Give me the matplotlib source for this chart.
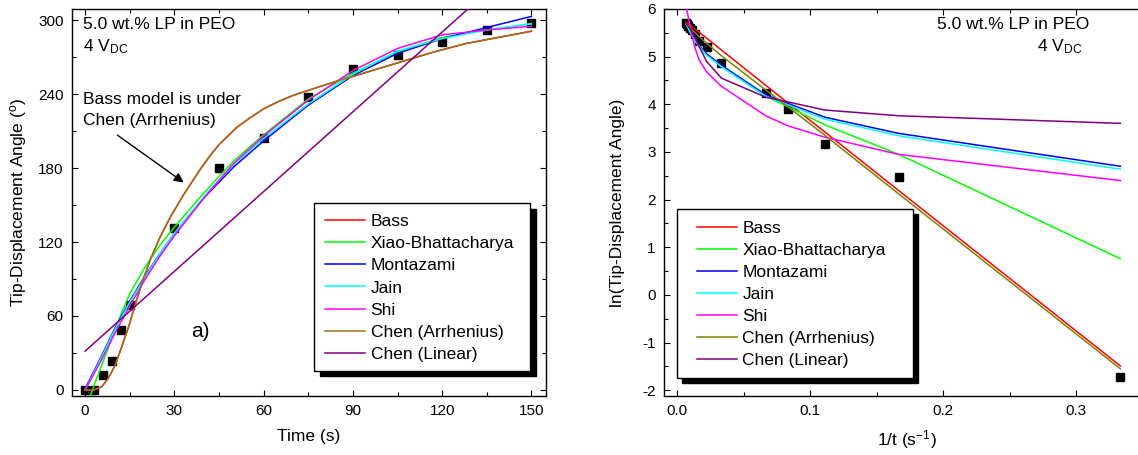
import numpy as np
import matplotlib
matplotlib.use("Agg")
import matplotlib.pyplot as plt
from matplotlib.patches import Rectangle
from matplotlib.ticker import MultipleLocator

plt.rcParams['font.family'] = ['Liberation Sans', 'DejaVu Sans']
plt.rcParams['mathtext.fontset'] = 'custom'
plt.rcParams['mathtext.rm'] = 'Liberation Sans'
plt.rcParams['mathtext.it'] = 'Liberation Sans:italic'
plt.rcParams['axes.unicode_minus'] = False

# measured tip displacement
time_s = [0, 3, 6, 9, 12, 15, 30, 45, 60, 75, 90, 105, 120, 135, 150]
angle_deg = [0, 0.18, 12, 23.5, 49, 69, 131, 180, 204, 238, 260, 272, 282, 292, 298]

model_names = ['Bass', 'Xiao-Bhattacharya', 'Montazami', 'Jain', 'Shi',
               'Chen (Arrhenius)', 'Chen (Linear)']
colors_left = ['#ff0000', '#00ff00', '#0000ff', '#00ffff', '#ff00ff', '#a0701c', '#800080']
colors_right = ['#ff0000', '#00ff00', '#0000ff', '#00ffff', '#ff00ff', '#808000', '#800080']

# model curves, left panel (angle vs time)
fit_t = [0, 5, 10, 15, 20, 25, 30, 40, 50, 60, 75, 90, 105, 120, 135, 150]
montazami = [1, 25, 50, 72, 92, 110, 127, 156, 181, 202, 231, 255, 273, 285, 294, 303]
jain = [0, 24, 49, 71, 91, 110, 127, 157, 183, 204, 232, 256, 275, 285, 292, 297]
shi = [0, 22, 46, 68, 89, 108, 125, 156, 184, 206, 235, 259, 277, 288, 292, 295]
xiao_t = [1.7, 4, 6.2, 9, 12, 15, 20, 25, 30, 40, 50, 60, 75, 90, 105, 120, 135, 150]
xiao = [-5, 10, 24, 42, 61, 78, 99, 117, 132, 160, 186, 207, 236, 257, 274, 286, 292, 297]
arrh_t = [0, 3, 5.6, 7.8, 10.1, 12.3, 14.6, 16.8, 19, 21.8, 25.2, 28.6, 33, 36, 39, 42,
          45, 48, 51, 55, 60, 65, 70, 75, 84, 95, 106, 117, 128, 139, 150]
arrh = [0, 0, 2.7, 9.5, 20, 35, 51, 69, 86, 105, 124, 140, 158, 169, 180, 190,
        199, 206, 213, 220, 228, 234, 239, 243, 250, 258, 266, 274, 281, 286, 291]
bass = list(arrh)  # hidden under Chen (Arrhenius)
linear_t = [0, 150]
linear = [31.5, 355]

# model curves, right panel (ln angle at t = 3 ... 150 s)
ln_bass = [-1.49, 2.19, 3.42, 4.03, 4.40, 5.14, 5.39, 5.51, 5.58, 5.63, 5.67, 5.69, 5.71, 5.73]
ln_xiao = [0.76, 2.95, 3.57, 3.95, 4.17, 4.80, 5.05, 5.23, 5.36, 5.47, 5.55, 5.62, 5.66, 5.69]
ln_montazami = [2.70, 3.39, 3.73, 4.02, 4.20, 4.82, 5.06, 5.23, 5.36, 5.47, 5.55, 5.62, 5.67, 5.70]
ln_jain = [2.64, 3.34, 3.69, 3.99, 4.17, 4.79, 5.03, 5.21, 5.34, 5.45, 5.53, 5.60, 5.65, 5.68]
ln_shi = [2.40, 2.95, 3.31, 3.55, 3.76, 4.38, 4.68, 4.93, 5.20, 5.47, 5.68, 5.85, 5.97, 6.08]
ln_arrh = [-1.55, 2.12, 3.35, 3.95, 4.30, 5.02, 5.28, 5.42, 5.51, 5.57, 5.62, 5.65, 5.68, 5.70]
ln_linear = [3.60, 3.76, 3.88, 4.05, 4.15, 4.55, 4.90, 5.21, 5.40, 5.53, 5.60, 5.64, 5.67, 5.70]

FS = 12.5


def style_axes(ax):
    for s in ax.spines.values():
        s.set_linewidth(1.0)
    ax.tick_params(which='both', direction='in', top=True, right=True,
                   labelsize=11, pad=6, width=0.8)
    ax.tick_params(which='major', length=4.5)
    ax.tick_params(which='minor', length=2.8)


def boxed_legend(ax, handles, frame, shadow, anchor):
    x0, y0, w, h = frame
    ax.add_patch(Rectangle((x0 + shadow[0], y0 - shadow[1]), w, h, transform=ax.transAxes,
                           facecolor='black', edgecolor='black', zorder=4, clip_on=False))
    ax.add_patch(Rectangle((x0, y0), w, h, transform=ax.transAxes, facecolor='white',
                           edgecolor='black', lw=1.0, zorder=4.5, clip_on=False))
    ax.legend(handles=handles, loc='upper left', bbox_to_anchor=anchor, frameon=False,
              borderaxespad=0, borderpad=0, fontsize=FS, handlelength=2.3,
              handletextpad=0.33, labelspacing=0.40)


fig = plt.figure(figsize=(11.38, 4.55), dpi=100)

# ---- left panel
ax1 = fig.add_axes([0.06327, 0.12967, 0.41652, 0.85055])
ax1.plot(time_s, angle_deg, 's', color='black', ms=6, zorder=2)
curves = [(arrh_t, bass), (xiao_t, xiao), (fit_t, montazami), (fit_t, jain),
          (fit_t, shi), (arrh_t, arrh), (linear_t, linear)]
lines1 = []
for (tx, ty), name, c in zip(curves, model_names, colors_left):
    ln, = ax1.plot(tx, ty, color=c, lw=1.1, label=name, zorder=3)
    lines1.append(ln)
ax1.set_xlim(-4.4, 154.9)
ax1.set_ylim(-4.9, 309)
ax1.xaxis.set_major_locator(MultipleLocator(30))
ax1.xaxis.set_minor_locator(MultipleLocator(15))
ax1.yaxis.set_major_locator(MultipleLocator(60))
ax1.yaxis.set_minor_locator(MultipleLocator(30))
style_axes(ax1)
ax1.set_xlabel('Time (s)', fontsize=FS)
ax1.set_ylabel(r'Tip-Displacement Angle ($^{\rm o}$)', fontsize=FS)
ax1.xaxis.set_label_coords(0.5, -0.085)
ax1.yaxis.set_label_coords(-0.09, 0.5)

ax1.text(0.023, 0.961, '5.0 wt.% LP in PEO', transform=ax1.transAxes, fontsize=FS, va='center')
ax1.text(0.023, 0.904, r'4 V$_{\rm DC}$', transform=ax1.transAxes, fontsize=FS, va='center')
ax1.text(0.023, 0.765, 'Bass model is under', transform=ax1.transAxes, fontsize=FS, va='center')
ax1.text(0.023, 0.711, 'Chen (Arrhenius)', transform=ax1.transAxes, fontsize=FS, va='center')
ax1.annotate('', xy=(33.9, 167), xytext=(10.1, 208),
             arrowprops=dict(arrowstyle='-|>', color='black', lw=1.0, mutation_scale=14))
ax1.text(0.270, 0.166, 'a)', transform=ax1.transAxes, fontsize=15, ha='center', va='center')

boxed_legend(ax1, lines1, (0.511, 0.0654, 0.455, 0.4326), (0.0127, 0.0142), (0.5338, 0.470))

# ---- right panel
inv_t = 1.0 / np.array(time_s[1:])
ln_angle = np.log(np.array(angle_deg[1:]))
ax2 = fig.add_axes([0.58348, 0.12967, 0.42707, 0.85055])
ax2.plot(inv_t, ln_angle, 's', color='black', ms=6, zorder=2)
ln_curves = [ln_bass, ln_xiao, ln_montazami, ln_jain, ln_shi, ln_arrh, ln_linear]
lines2 = []
for vals, name, c in zip(ln_curves, model_names, colors_right):
    ln, = ax2.plot(inv_t, vals, color=c, lw=1.1, label=name, zorder=3)
    lines2.append(ln)
ax2.set_xlim(-0.0098, 0.3556)
ax2.set_ylim(-2.12, 6)
ax2.xaxis.set_major_locator(MultipleLocator(0.1))
ax2.xaxis.set_minor_locator(MultipleLocator(0.05))
ax2.yaxis.set_major_locator(MultipleLocator(1))
ax2.yaxis.set_minor_locator(MultipleLocator(0.5))
style_axes(ax2)
ax2.set_xlabel(r'1/t (s$^{-1}$)', fontsize=FS)
ax2.set_ylabel('ln(Tip-Displacement Angle)', fontsize=FS)
ax2.xaxis.set_label_coords(0.5, -0.083)
ax2.yaxis.set_label_coords(-0.080, 0.5)

ax2.text(0.5617, 0.961, '5.0 wt.% LP in PEO', transform=ax2.transAxes, fontsize=FS, va='center')
ax2.text(0.7675, 0.904, r'4 V$_{\rm DC}$', transform=ax2.transAxes, fontsize=FS, va='center')

boxed_legend(ax2, lines2, (0.0261, 0.0457, 0.4868, 0.4367), (0.0103, 0.0129), (0.0673, 0.4535))

fig.savefig('out.png', dpi=100)
